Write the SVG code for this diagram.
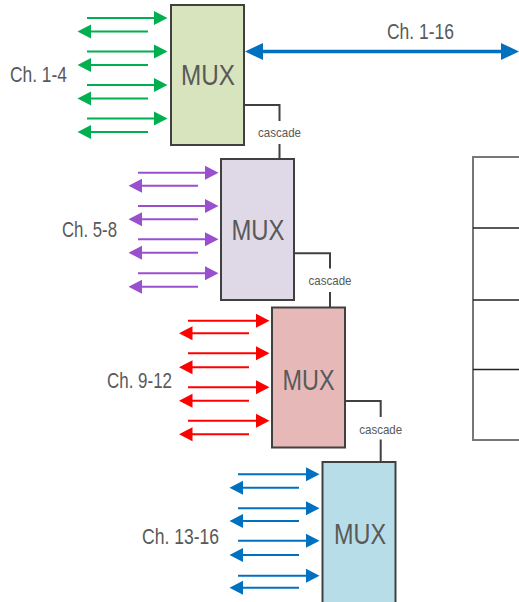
<svg xmlns="http://www.w3.org/2000/svg" width="519" height="602" viewBox="0 0 519 602">
<style>
.box{stroke:#404040;stroke-width:2}
.lbl{font-family:"Liberation Sans",Arial,sans-serif;fill:#595959}
.mux{font-size:30px;text-anchor:middle}
.ch{font-size:22px}
.cas{font-size:13.5px;text-anchor:middle}
.g{stroke:#00B050;stroke-width:2}
.p{stroke:#9A4FCF;stroke-width:2}
.r{stroke:#FF0000;stroke-width:2}
.b{stroke:#0070C0;stroke-width:2}
.g line{marker-end:url(#mg)}
.p line{marker-end:url(#mp)}
.r line{marker-end:url(#mr)}
.b line{marker-end:url(#mb)}
.conn{stroke:#404040;stroke-width:2;fill:none}
</style>
<defs>
<marker id="mg" markerUnits="userSpaceOnUse" markerWidth="15" markerHeight="15" refX="3" refY="7.5" orient="auto"><path d="M0,0.5 L13.5,7.5 L0,14.5 z" fill="#00B050"/></marker>
<marker id="mp" markerUnits="userSpaceOnUse" markerWidth="15" markerHeight="15" refX="3" refY="7.5" orient="auto"><path d="M0,0.5 L13.5,7.5 L0,14.5 z" fill="#9A4FCF"/></marker>
<marker id="mr" markerUnits="userSpaceOnUse" markerWidth="15" markerHeight="15" refX="3" refY="7.5" orient="auto"><path d="M0,0.5 L13.5,7.5 L0,14.5 z" fill="#FF0000"/></marker>
<marker id="mb" markerUnits="userSpaceOnUse" markerWidth="15" markerHeight="15" refX="3" refY="7.5" orient="auto"><path d="M0,0.5 L13.5,7.5 L0,14.5 z" fill="#0070C0"/></marker>
<marker id="mbig" markerUnits="userSpaceOnUse" markerWidth="20" markerHeight="18" refX="4" refY="9" orient="auto-start-reverse"><path d="M0,0.5 L18,9 L0,17.5 z" fill="#0070C0"/></marker>
</defs>
<rect width="519" height="602" fill="#ffffff"/>

<g id="mux1">
<rect class="box" x="171" y="5" width="73" height="140" fill="#D7E4BD"/>
<text class="lbl mux" x="208" y="85" textLength="54" lengthAdjust="spacingAndGlyphs">MUX</text>
</g>
<g id="ch1-4">
<g class="g">
<line x1="87" y1="18" x2="157" y2="18"/>
<line x1="148" y1="31.5" x2="88" y2="31.5"/>
<line x1="87" y1="51.5" x2="157" y2="51.5"/>
<line x1="148" y1="65" x2="88" y2="65"/>
<line x1="87" y1="85" x2="157" y2="85"/>
<line x1="148" y1="98.5" x2="88" y2="98.5"/>
<line x1="87" y1="118.5" x2="157" y2="118.5"/>
<line x1="148" y1="132" x2="88" y2="132"/>
</g>
<text class="lbl ch" x="10" y="82" textLength="57" lengthAdjust="spacingAndGlyphs">Ch. 1-4</text>
</g>

<g id="mux2">
<rect class="box" x="221" y="159" width="73" height="141" fill="#DFD8E7"/>
<text class="lbl mux" x="258" y="239.5" textLength="53" lengthAdjust="spacingAndGlyphs">MUX</text>
</g>
<g id="ch5-8">
<g class="p">
<line x1="138" y1="172.7" x2="208" y2="172.7"/>
<line x1="198" y1="185.7" x2="139" y2="185.7"/>
<line x1="138" y1="206" x2="208" y2="206"/>
<line x1="198" y1="219.3" x2="139" y2="219.3"/>
<line x1="138" y1="239.3" x2="208" y2="239.3"/>
<line x1="198" y1="252.7" x2="139" y2="252.7"/>
<line x1="138" y1="273.3" x2="208" y2="273.3"/>
<line x1="198" y1="286.7" x2="139" y2="286.7"/>
</g>
<text class="lbl ch" x="62" y="237" textLength="55" lengthAdjust="spacingAndGlyphs">Ch. 5-8</text>
</g>

<g id="mux3">
<rect class="box" x="272" y="307.5" width="73" height="140" fill="#E6B9B8"/>
<text class="lbl mux" x="308.5" y="389.5" textLength="52" lengthAdjust="spacingAndGlyphs">MUX</text>
</g>
<g id="ch9-12">
<g class="r">
<line x1="188" y1="320.7" x2="259" y2="320.7"/>
<line x1="249" y1="333.3" x2="189.5" y2="333.3"/>
<line x1="188" y1="353.3" x2="259" y2="353.3"/>
<line x1="249" y1="367.3" x2="189.5" y2="367.3"/>
<line x1="188" y1="387.3" x2="259" y2="387.3"/>
<line x1="249" y1="400.7" x2="189.5" y2="400.7"/>
<line x1="188" y1="420.7" x2="259" y2="420.7"/>
<line x1="249" y1="434.3" x2="189.5" y2="434.3"/>
</g>
<text class="lbl ch" x="107" y="388" textLength="65" lengthAdjust="spacingAndGlyphs">Ch. 9-12</text>
</g>

<g id="mux4">
<rect class="box" x="322.5" y="462" width="73" height="160" fill="#B7DDE8"/>
<text class="lbl mux" x="360" y="544" textLength="52" lengthAdjust="spacingAndGlyphs">MUX</text>
</g>
<g id="ch13-16">
<g class="b">
<line x1="238" y1="474.3" x2="309" y2="474.3"/>
<line x1="299" y1="487.7" x2="240" y2="487.7"/>
<line x1="238" y1="508.3" x2="309" y2="508.3"/>
<line x1="299" y1="521" x2="240" y2="521"/>
<line x1="238" y1="540.7" x2="309" y2="540.7"/>
<line x1="299" y1="555" x2="240" y2="555"/>
<line x1="238" y1="575.7" x2="309" y2="575.7"/>
<line x1="299" y1="587.7" x2="240" y2="587.7"/>
</g>
<text class="lbl ch" x="142" y="544" textLength="77" lengthAdjust="spacingAndGlyphs">Ch. 13-16</text>
</g>

<g id="table">
<rect x="473" y="157" width="60" height="283" fill="none" stroke="#777777" stroke-width="2"/>
<line x1="473" y1="228" x2="519" y2="228" stroke="#222222" stroke-width="1.5"/>
<line x1="473" y1="300" x2="519" y2="300" stroke="#222222" stroke-width="1.5"/>
<line x1="473" y1="369.5" x2="519" y2="369.5" stroke="#222222" stroke-width="1.5"/>
</g>

<g id="connectors">
<line x1="259" y1="51.5" x2="505" y2="51.5" stroke="#0070C0" stroke-width="3.5" marker-start="url(#mbig)" marker-end="url(#mbig)"/>
<text class="lbl ch" x="387" y="39" textLength="67" lengthAdjust="spacingAndGlyphs">Ch. 1-16</text>
<path class="conn" d="M244,105 H279.5 V121 M279.5,144 V159"/>
<text class="lbl cas" x="279.5" y="136.5" textLength="43" lengthAdjust="spacingAndGlyphs">cascade</text>
<path class="conn" d="M294,253.3 H330 V268.5 M330,292 V307.5"/>
<text class="lbl cas" x="330" y="285" textLength="43" lengthAdjust="spacingAndGlyphs">cascade</text>
<path class="conn" d="M345,401 H380.7 V417 M380.7,439.5 V462"/>
<text class="lbl cas" x="380.7" y="433.5" textLength="43" lengthAdjust="spacingAndGlyphs">cascade</text>
</g>
</svg>
